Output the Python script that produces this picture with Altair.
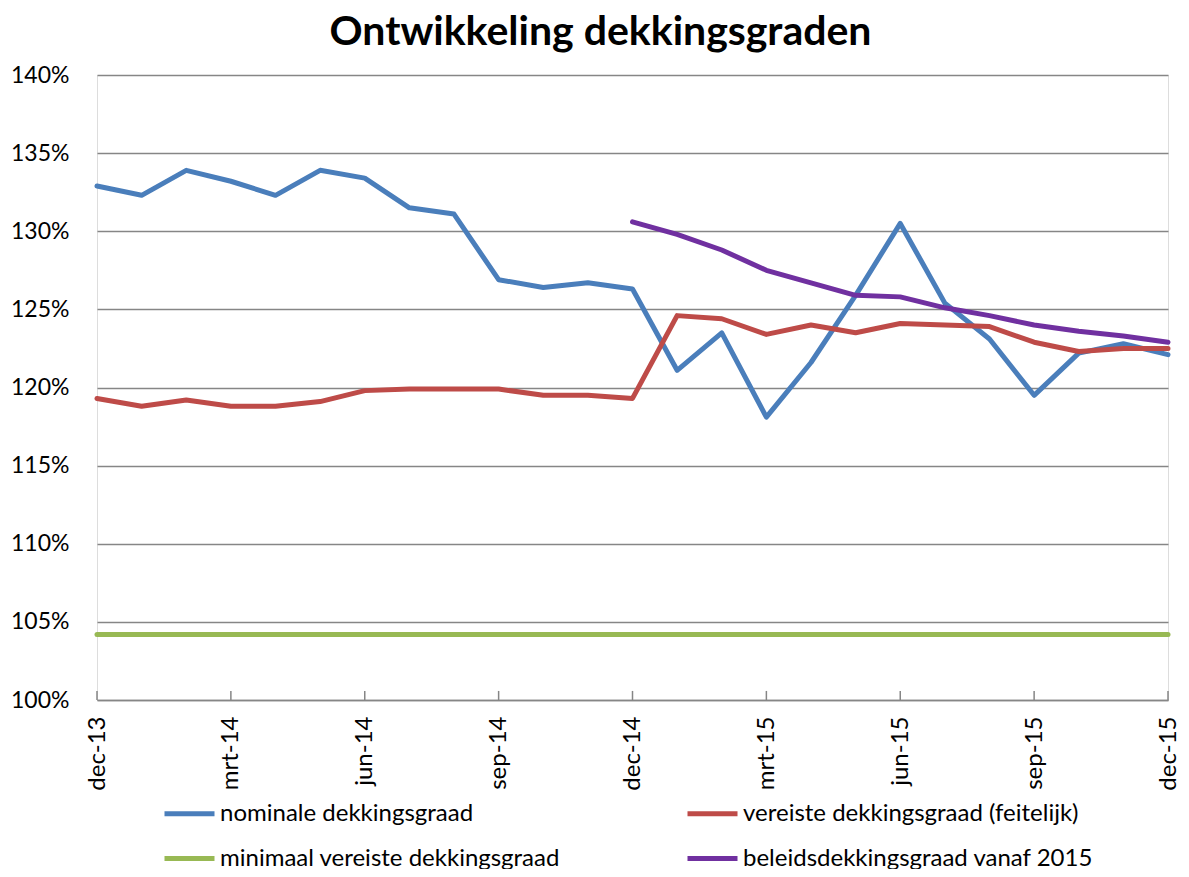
import altair as alt
import pandas as pd

months = ["dec-13", "jan-14", "feb-14", "mrt-14", "apr-14", "mei-14", "jun-14",
          "jul-14", "aug-14", "sep-14", "okt-14", "nov-14", "dec-14", "jan-15",
          "feb-15", "mrt-15", "apr-15", "mei-15", "jun-15", "jul-15", "aug-15",
          "sep-15", "okt-15", "nov-15", "dec-15"]
tick_labels = ["dec-13", "mrt-14", "jun-14", "sep-14", "dec-14", "mrt-15",
               "jun-15", "sep-15", "dec-15"]

series_names = ["nominale dekkingsgraad", "vereiste dekkingsgraad (feitelijk)",
                "minimaal vereiste dekkingsgraad", "beleidsdekkingsgraad vanaf 2015"]
series_colors = ["#4A7EBB", "#BE4B48", "#98B954", "#7030A0"]

nominale = [132.9, 132.3, 133.9, 133.2, 132.3, 133.9, 133.4, 131.5, 131.1, 126.9,
            126.4, 126.7, 126.3, 121.1, 123.5, 118.1, 121.6, 125.9, 130.5, 125.4,
            123.1, 119.5, 122.2, 122.8, 122.1]
vereiste = [119.3, 118.8, 119.2, 118.8, 118.8, 119.1, 119.8, 119.9, 119.9, 119.9,
            119.5, 119.5, 119.3, 124.6, 124.4, 123.4, 124.0, 123.5, 124.1, 124.0,
            123.9, 122.9, 122.3, 122.5, 122.5]
minimaal = [104.2, 104.2, 104.2, 104.2, 104.2, 104.2, 104.2, 104.2, 104.2, 104.2,
            104.2, 104.2, 104.2, 104.2, 104.2, 104.2, 104.2, 104.2, 104.2, 104.2,
            104.2, 104.2, 104.2, 104.2, 104.2]
beleids = [None, None, None, None, None, None, None, None, None, None, None, None,
           130.6, 129.8, 128.8, 127.5, 126.7, 125.9, 125.8, 125.1, 124.6, 124.0,
           123.6, 123.3, 122.9]

y_ticks = [1.00, 1.05, 1.10, 1.15, 1.20, 1.25, 1.30, 1.35, 1.40]

rows = []
for name, vals in zip(series_names, [nominale, vereiste, minimaal, beleids]):
    for i, (m, v) in enumerate(zip(months, vals)):
        if v is not None:
            rows.append({"maand": m, "serie": name, "waarde": v / 100.0, "order": i})
df = pd.DataFrame(rows)

# small upward tick marks on the category axis (in data units: ~0.58%-point)
ticks_df = pd.DataFrame({"maand": tick_labels,
                         "van": [1.0] * len(tick_labels),
                         "tot": [1.0058] * len(tick_labels)})

FONT = "Lato"

x_scale = alt.Scale(type="point", domain=months, padding=0)
y_scale = alt.Scale(domain=[1.0, 1.4], zero=False, nice=False)

lines = alt.Chart(df).mark_line(strokeWidth=5, strokeCap="round", strokeJoin="round").encode(
    x=alt.X("maand:O", sort=months, scale=x_scale,
            axis=alt.Axis(values=tick_labels, labelAngle=-90, title=None,
                          labelFont=FONT, labelFontSize=24, labelColor="black",
                          ticks=False, labelPadding=16, domainColor="#868686",
                          domainWidth=1.5, grid=False)),
    y=alt.Y("waarde:Q", scale=y_scale,
            axis=alt.Axis(values=y_ticks, format=".0%", title=None, domain=False,
                          ticks=False, labelFont=FONT, labelFontSize=23,
                          labelColor="black", labelPadding=28, gridColor="#868686",
                          gridWidth=1.4)),
    color=alt.Color("serie:N", scale=alt.Scale(domain=series_names, range=series_colors),
                    legend=alt.Legend(title=None, orient="none", legendX=65, legendY=711,
                                      direction="horizontal",
                                      columns=2, columnPadding=117, rowPadding=5,
                                      symbolType="stroke", symbolSize=2500,
                                      symbolStrokeWidth=5, labelFont=FONT,
                                      labelFontSize=24, labelColor="black",
                                      labelOffset=3, padding=0, labelLimit=500)),
    order="order:Q",
)

tick_marks = alt.Chart(ticks_df).mark_rule(strokeWidth=1.5, color="#868686").encode(
    x=alt.X("maand:O", sort=months, scale=x_scale),
    y=alt.Y("van:Q", scale=y_scale),
    y2="tot:Q",
)

chart = alt.layer(tick_marks, lines).properties(
    width=1071, height=625,
    title=alt.TitleParams("Ontwikkeling dekkingsgraden", font=FONT, fontSize=41,
                          fontWeight="bold", color="black", anchor="middle",
                          frame="group", dx=-32, offset=10),
    autosize=alt.AutoSizeParams(type="none"),
    padding={"left": 89, "top": 67, "right": 13, "bottom": 169},
).configure_view(stroke=None).configure(background="white")

chart.save("out.html", embed_options={"renderer": "svg", "actions": False})
